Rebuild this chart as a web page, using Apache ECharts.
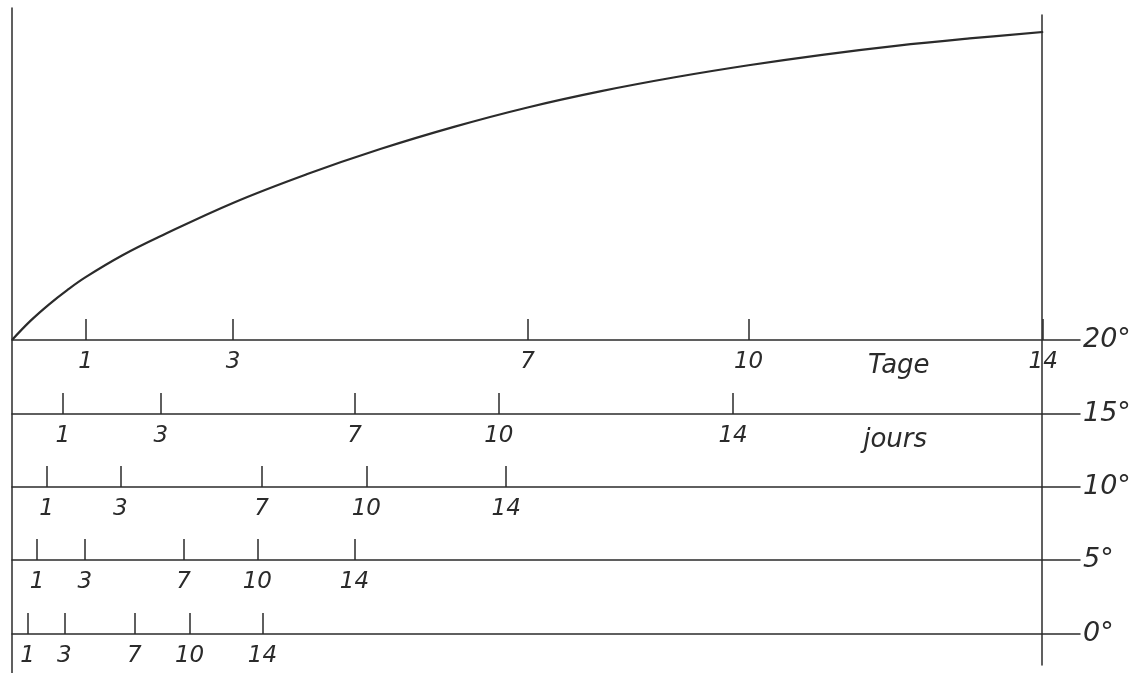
<!DOCTYPE html>
<html>
<head>
<meta charset="utf-8">
<script src="https://cdn.jsdelivr.net/npm/echarts@6/dist/echarts.min.js"></script>
<style>
  html, body { margin: 0; padding: 0; background: #fff; }
  #chart { width: 1143px; height: 673px; }
</style>
</head>
<body>
<div id="chart"></div>
<script>
// curve: x in days at 20 deg, y in relative units (0 = 20 deg line, 100 = top)
var curveDays = [0, 0.25, 0.5, 0.75, 1, 1.5, 2, 3, 4, 5, 6, 7, 8, 9, 10, 11, 12, 13, 14];
var curveVals = [0, 6.2, 11.5, 16.2, 20.4, 27.5, 33.5, 44.5, 53.8, 62, 69.2, 75.5, 80.8, 85.3, 89.2, 92.6, 95.5, 97.9, 100];

// day ticks, one row per temperature, positions (in 20 deg days)
var dayLabels = [1, 3, 7, 10, 14];
var rowTemps = ['20°', '15°', '10°', '5°', '0°'];
var tickPos20 = [1, 3, 7, 10, 14];
var tickPos15 = [0.69, 2.02, 4.65, 6.61, 9.79];
var tickPos10 = [0.47, 1.47, 3.39, 4.81, 6.71];
var tickPos5 = [0.34, 0.99, 2.33, 3.33, 4.65];
var tickPos0 = [0.21, 0.71, 1.66, 2.41, 3.40];
var unitWords = ['Tage', 'jours', '', '', ''];
var unitPos = [12.04, 11.99];

var rowTicks = [tickPos20, tickPos15, tickPos10, tickPos5, tickPos0];
var rowY = [340, 414, 487, 560, 634];

var ink = '#2b2b2b';
var font = 'DejaVu Sans';
var axisMax = 14.5;

var chart = echarts.init(document.getElementById('chart'));

function rowAxis(i) {
    var pos = rowTicks[i];
    var labelVals = pos.slice();
    if (unitWords[i]) labelVals.push(unitPos[i]);
    return {
        type: 'value',
        gridIndex: i,
        min: 0,
        max: axisMax,
        position: 'bottom',
        name: rowTemps[i],
        nameLocation: 'end',
        nameGap: 3,
        nameTextStyle: {color: ink, fontSize: 27, fontStyle: 'italic', fontFamily: font, verticalAlign: 'middle'},
        axisLine: {show: true, lineStyle: {color: ink, width: 1.5}},
        axisTick: {show: true, inside: true, length: 21, customValues: pos, lineStyle: {color: ink, width: 1.5}},
        splitLine: {show: false},
        axisLabel: {
            show: true,
            margin: 11,
            customValues: labelVals,
            color: ink,
            fontSize: 23,
            fontStyle: 'italic',
            fontFamily: font,
            formatter: function (v) {
                var k = pos.indexOf(v);
                if (k >= 0) return String(dayLabels[k]);
                return '{w|' + unitWords[i] + '}';
            },
            rich: {
                w: {fontSize: 26, fontStyle: 'italic', fontFamily: font, color: ink, padding: [2, 0, 0, 0]}
            }
        }
    };
}

var grids = [{left: 12, width: 1068, top: 32, height: rowY[0] - 32, containLabel: false, outerBoundsMode: 'none'}];
for (var r = 1; r < rowY.length; r++) {
    grids.push({left: 12, width: 1068, top: rowY[r] - 30, height: 30, containLabel: false, outerBoundsMode: 'none'});
}
// the two vertical frame lines
grids.push({left: 12, width: 1, top: 8, bottom: 0, containLabel: false, outerBoundsMode: 'none'});
grids.push({left: 1042, width: 1, top: 15, bottom: 8, containLabel: false, outerBoundsMode: 'none'});

var xAxes = [], yAxes = [];
for (var i = 0; i < rowY.length; i++) {
    xAxes.push(rowAxis(i));
    yAxes.push({type: 'value', gridIndex: i, min: 0, max: i === 0 ? 100 : 1, show: false});
}
[5, 6].forEach(function (g) {
    xAxes.push({type: 'value', gridIndex: g, min: 0, max: 1, show: false});
    yAxes.push({
        type: 'value', gridIndex: g, min: 0, max: 1, position: 'left',
        axisLine: {show: true, lineStyle: {color: ink, width: 1.5}},
        axisTick: {show: false}, axisLabel: {show: false}, splitLine: {show: false}
    });
});

var curveData = curveDays.map(function (d, k) { return [d, curveVals[k]]; });

chart.setOption({
    animation: false,
    backgroundColor: '#fff',
    grid: grids,
    xAxis: xAxes,
    yAxis: yAxes,
    series: [
        {
            type: 'line',
            xAxisIndex: 0,
            yAxisIndex: 0,
            data: curveData,
            smooth: 0.4,
            showSymbol: false,
            lineStyle: {color: ink, width: 2.2}
        }
    ]
});
</script>
</body>
</html>
